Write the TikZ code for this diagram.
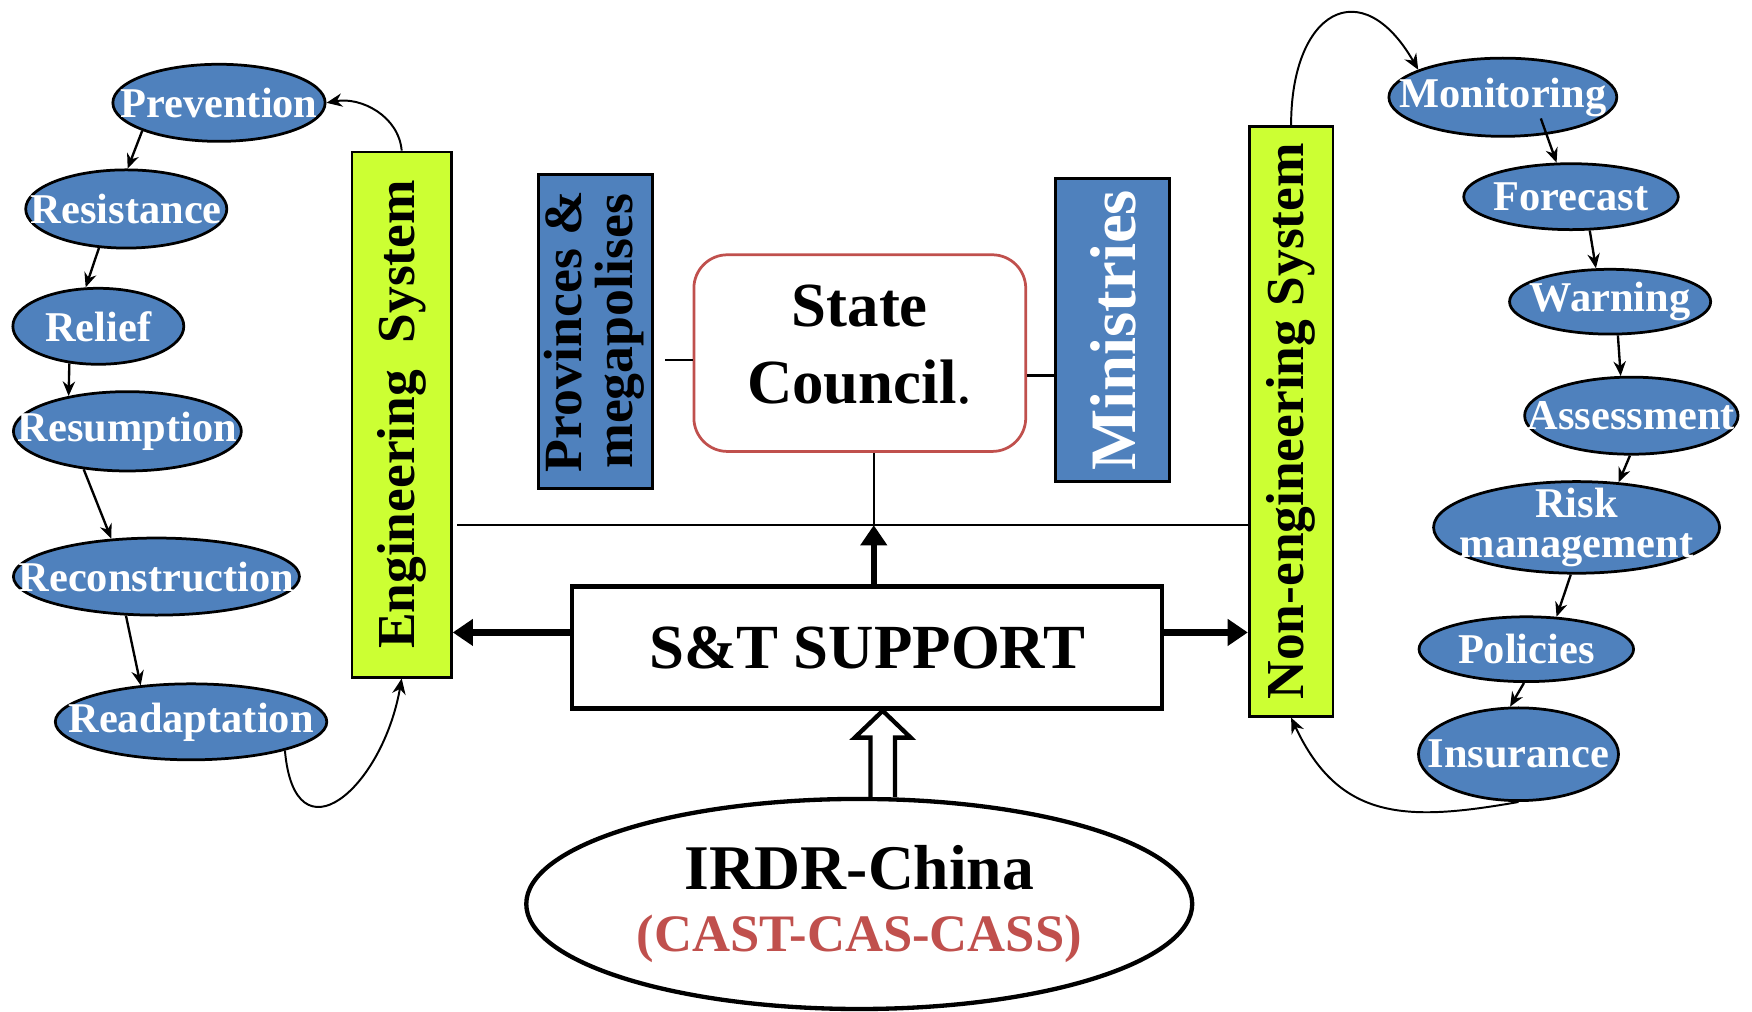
\documentclass[tikz,border=0pt]{standalone}
\usepackage{fontspec}
\setmainfont{Liberation Serif}
\usepackage{graphicx}
\usetikzlibrary{positioning,shapes.geometric,arrows.meta,calc}
\definecolor{phaseblue}{HTML}{4F81BD}
\definecolor{syslime}{HTML}{CCFF33}
\definecolor{councilred}{HTML}{C0504D}
\tikzset{
    boxnode/.style={align=center, inner sep=0pt},
    % Phase Node (blue ellipse, text as centre label)
    node_phase/.style = {ellipse, draw=black, line width=0.7pt, fill=phaseblue, inner sep=0pt},
    phase_text/.style = {boxnode, white, font=\fontsize{10.8}{10}\selectfont\bfseries},
    % System Node
    node_sys/.style = {boxnode, draw=black, line width=0.7pt, fill=syslime, font=\fontsize{13.6}{16}\selectfont\bfseries},
    % Government Node
    node_gov/.style = {boxnode, draw=black, line width=0.8pt, fill=phaseblue, font=\bfseries},
    chain_arrow/.style = {line width=0.6pt, -{Stealth[length=1.3mm,width=1.1mm]}},
    loop_arrow/.style = {line width=0.5pt, -{Stealth[length=1.4mm,width=1.2mm]}},
    support_arrow/.style = {line width=1.6pt, -{Triangle[length=1.8mm,width=2.3mm]}}
}

\begin{document}
\begin{tikzpicture}[line_link/.style = {line width=0.6pt}]

    \useasboundingbox (0,0) rectangle (15.68,-9.05);

    % engineering phases
    \node[node_phase, minimum width=1.90cm, minimum height=0.69cm, label={[phase_text]center:Prevention}] (prev) at (1.96,-0.92) {};
    \node[node_phase, minimum width=1.80cm, minimum height=0.70cm, label={[phase_text]center:Resistance}] (resi) at (1.13,-1.87) {};
    \node[node_phase, minimum width=1.53cm, minimum height=0.68cm, label={[phase_text]center:Relief}] (reli) at (0.88,-2.92) {};
    \node[node_phase, minimum width=2.04cm, minimum height=0.71cm, label={[phase_text]center:Resumption}] (resu) at (1.14,-3.86) {};
    \node[node_phase, minimum width=2.56cm, minimum height=0.69cm, label={[phase_text]center:Reconstruction}] (reco) at (1.40,-5.16) {};
    \node[node_phase, minimum width=2.43cm, minimum height=0.68cm, label={[phase_text]center:Readaptation}] (read) at (1.71,-6.46) {};

    % non-engineering phases
    \node[node_phase, minimum width=2.04cm, minimum height=0.70cm, label={[phase_text]center:Monitoring}] (moni) at (13.45,-0.87) {};
    \node[node_phase, minimum width=1.92cm, minimum height=0.59cm, label={[phase_text]center:Forecast}] (fore) at (14.06,-1.76) {};
    \node[node_phase, minimum width=1.80cm, minimum height=0.58cm, label={[phase_text]center:Warning}] (warn) at (14.41,-2.70) {};
    \node[node_phase, minimum width=1.91cm, minimum height=0.69cm, label={[phase_text]center:Assessment}] (asse) at (14.60,-3.72) {};
    \node[node_phase, minimum width=2.56cm, minimum height=0.82cm, label={[phase_text]center:Risk\\management}] (risk) at (14.11,-4.72) {};
    \node[node_phase, minimum width=1.92cm, minimum height=0.58cm, label={[phase_text]center:Policies}] (poli) at (13.66,-5.81) {};
    \node[node_phase, minimum width=1.79cm, minimum height=0.83cm, label={[phase_text]center:Insurance}] (insu) at (13.59,-6.75) {};

    % systems
    \node[node_sys, minimum width=0.89cm, minimum height=4.70cm] (eng) at (3.595,-3.71) {\rotatebox{90}{Engineering\ \ System}};
    \node[node_sys, minimum width=0.75cm, minimum height=5.28cm] (noneng) at (11.555,-3.77) {\rotatebox{90}{Non-engineering System}};

    % government
    \node[node_gov, minimum width=1.02cm, minimum height=2.81cm, font=\fontsize{13.7}{12.2}\selectfont\bfseries] (prov) at (5.33,-2.965)
        {\rotatebox{90}{\begin{tabular}{@{}c@{}}Provinces \&\\megapolises\end{tabular}}};
    \node[node_gov, text=white, minimum width=1.02cm, minimum height=2.71cm, font=\fontsize{16.5}{18}\selectfont\bfseries] (mini) at (9.96,-2.955)
        {\rotatebox{90}{Ministries}};
    \node[boxnode, draw=councilred, line width=0.7pt, rounded corners=0.3cm, fill=white, minimum width=2.97cm, minimum height=1.76cm,
        text depth=0.16cm, font=\fontsize{16}{19.6}\selectfont\bfseries] (council) at (7.695,-3.16) {State\\Council{\mdseries.}};

    % support
    \node[boxnode, draw=black, line width=1.2pt, minimum width=5.28cm, minimum height=1.09cm,
        font=\fontsize{16}{19}\selectfont\bfseries] (sandt) at (7.76,-5.795) {S\&T SUPPORT};
    \node[ellipse, draw=black, line width=1.1pt, fill=white, inner sep=0pt, minimum width=5.96cm, minimum height=1.88cm, align=center,
        font=\fontsize{13.4}{15.6}\selectfont\bfseries] (irdr) at (7.69,-8.09)
        {{\fontsize{16.2}{17}\selectfont IRDR-China}\\{\color{councilred}(CAST-CAS-CASS)}};

    % phase chains
    \draw[chain_arrow] (prev.-160) -- (resi.88);
    \draw[chain_arrow] (resi.-125) -- (reli.108);
    \draw[chain_arrow] (reli.-128) -- (resu.149);
    \draw[chain_arrow] (resu.-139) -- (reco.140);
    \draw[chain_arrow] (reco.-128) -- (read.144);
    \draw[chain_arrow] ([xshift=3.4mm,yshift=-1.9mm]moni.center) -- (fore.113);
    \draw[chain_arrow] (fore.-61) -- (warn.113);
    \draw[chain_arrow] (warn.-77) -- (asse.105);
    \draw[chain_arrow] (asse.-92) -- (risk.47);
    \draw[chain_arrow] (risk.-97) -- (poli.47);
    \draw[chain_arrow] (poli.-94) -- (insu.100);

    % loops back to the systems
    \draw[loop_arrow] (eng.north) to[out=95,in=10] (prev.east);
    \draw[loop_arrow] (read.-17) to[out=-85,in=-100,looseness=2.1] (eng.south);
    \draw[loop_arrow] (noneng.north) to[out=90,in=120,looseness=2.1] (moni.162);
    \draw[loop_arrow] (insu.south) to[out=-170,in=-65,looseness=1.2] (noneng.south);

    % council links
    \coordinate (prov_link) at ([yshift=-0.6mm]council.west);
    \coordinate (mini_link) at ([yshift=-2mm]council.east);
    \coordinate (hub) at (7.82,-4.70);
    \draw[line_link, shorten >=1mm] (prov_link) -- (prov_link -| prov.east);
    \draw[line_link] (mini_link) -- (mini_link -| mini.west);
    \draw[line_link] (hub |- council.south) -- (hub);
    \draw[line_link, shorten <=0.4mm] (eng.east |- hub) -- (noneng.west |- hub);

    % support arrows
    \coordinate (sup_w) at ([yshift=1.35mm]sandt.west);
    \coordinate (sup_e) at ([yshift=1.35mm]sandt.east);
    \draw[support_arrow] (hub |- sandt.north) -- (hub);
    \draw[support_arrow] (sup_w) -- (sup_w -| eng.east);
    \draw[support_arrow] (sup_e) -- (sup_e -| noneng.west);

    % hollow arrow from IRDR-China
    \coordinate (irdr_top) at ([xshift=2.1mm]irdr.north);
    \coordinate (tip) at (irdr_top |- sandt.south);
    \draw[line width=1.1pt, fill=white] ($(irdr_top)+(-0.11,0)$) -- ($(tip)+(-0.11,-0.24)$) -- ($(tip)+(-0.25,-0.24)$) -- (tip)
        -- ($(tip)+(0.25,-0.24)$) -- ($(tip)+(0.11,-0.24)$) -- ($(irdr_top)+(0.11,0)$);

\end{tikzpicture}
\end{document}
